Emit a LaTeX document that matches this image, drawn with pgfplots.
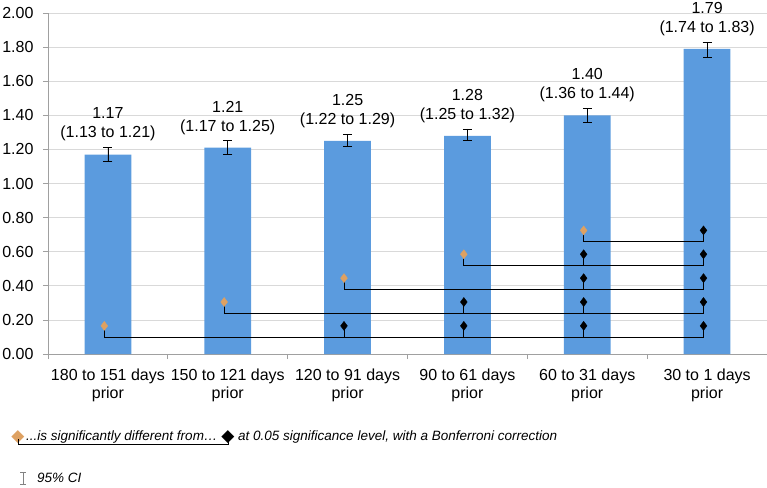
\documentclass[border=0pt]{standalone}
\usepackage{fontspec}
\setmainfont{Liberation Sans}
\newfontfamily\symfont{DejaVu Sans}
\usepackage{pgfplots}
\pgfplotsset{compat=1.18}
\usepackage{pgfplotstable}
\usetikzlibrary{calc}

\definecolor{barblue}{RGB}{91,155,222}
\definecolor{sigorange}{RGB}{222,161,98}
\definecolor{axgray}{RGB}{160,160,160}
\definecolor{gridgray}{RGB}{217,217,217}
\definecolor{cigray}{RGB}{130,130,130}

% rate ratio with 95% CI per period
\pgfplotstableread{
x y lo hi
0 1.17 1.13 1.21
1 1.21 1.17 1.25
2 1.25 1.22 1.29
3 1.28 1.25 1.32
4 1.40 1.36 1.44
5 1.79 1.74 1.83
}\ratios

% orange: reference period of each comparison row
\pgfplotstableread{
x y
-0.03 0.165
0.97 0.305
1.97 0.445
2.97 0.585
3.97 0.725
}\refpts

% black: periods significantly different from the reference
\pgfplotstableread{
x y
1.97 0.165
2.97 0.165
3.97 0.165
4.97 0.165
2.97 0.305
3.97 0.305
4.97 0.305
3.97 0.445
4.97 0.445
3.97 0.585
4.97 0.585
4.97 0.725
}\diffpts

\newcommand\pn[1]{\pgfmathprintnumber[fixed,fixed zerofill,precision=2]{#1}}

\begin{document}
\begin{tikzpicture}
\begin{axis}[
  scale only axis,
  width=719pt, height=341pt,
  xmin=-0.5, xmax=5.5,
  ymin=0, ymax=2,
  /pgf/number format/assume math mode=true,
  axis x line*=bottom, axis y line*=left,
  axis line style={axgray, line width=0.8pt},
  ytick={0,0.2,0.4,0.6,0.8,1.0,1.2,1.4,1.6,1.8,2.0},
  yticklabel style={/pgf/number format/fixed, /pgf/number format/fixed zerofill,
    /pgf/number format/precision=2, xshift=-6pt},
  ymajorgrids, grid style={gridgray, line width=0.8pt},
  tick align=outside, major tick length=5pt,
  tick style={axgray, line width=0.8pt},
  xtick={-0.5,0.5,1.5,2.5,3.5,4.5,5.5},
  xticklabels={},
  extra x ticks={0,1,2,3,4,5},
  extra x tick labels={180 to 151 days\\prior, 150 to 121 days\\prior,
    120 to 91 days\\prior, 90 to 61 days\\prior, 60 to 31 days\\prior,
    30 to 1 days\\prior},
  extra x tick style={major tick length=0pt, grid=none,
    tick label style={align=center, yshift=-11pt, font=\fontsize{16}{18.5}\selectfont}},
  tick label style={font=\fontsize{16}{19}\selectfont, text=black},
  clip=false,
]
\addplot[ybar, bar width=0.39, bar shift=0pt, fill=barblue, draw=none,
  error bars/.cd, y dir=both, y explicit,
  error bar style={black, line width=0.8pt},
  error mark options={black, line width=0.8pt, mark size=4.5pt, rotate=90}]
  table[x=x, y=y, y error plus expr=\thisrow{hi}-\thisrow{y},
        y error minus expr=\thisrow{y}-\thisrow{lo}] {\ratios};

\addplot[draw=none, mark=none,
  point meta=\thisrow{y},
  visualization depends on={\thisrow{lo}\as\lo},
  visualization depends on={\thisrow{hi}\as\hi},
  nodes near coords={\pn{\pgfplotspointmeta}\\(\pn{\lo} to \pn{\hi})},
  every node near coord/.append style={align=center, anchor=south,
    font=\fontsize{16}{19}\selectfont, yshift=3pt}]
  table[x=x, y=hi] {\ratios};

\addplot[black, line width=0.8pt, unbounded coords=jump] coordinates {
  (-0.03,0.165) (-0.03,0.10) (4.97,0.10) (4.97,0.165) (4.97,nan)
  (1.97,0.165) (1.97,0.10) (1.97,nan)
  (2.97,0.165) (2.97,0.10) (2.97,nan)
  (3.97,0.165) (3.97,0.10) (3.97,nan)
  (0.97,0.305) (0.97,0.24) (4.97,0.24) (4.97,0.305) (4.97,nan)
  (2.97,0.305) (2.97,0.24) (2.97,nan)
  (3.97,0.305) (3.97,0.24) (3.97,nan)
  (1.97,0.445) (1.97,0.38) (4.97,0.38) (4.97,0.445) (4.97,nan)
  (3.97,0.445) (3.97,0.38) (3.97,nan)
  (2.97,0.585) (2.97,0.52) (4.97,0.52) (4.97,0.585) (4.97,nan)
  (3.97,0.585) (3.97,0.52) (3.97,nan)
  (3.97,0.725) (3.97,0.66) (4.97,0.66) (4.97,0.725)
};

\addplot[only marks, mark=diamond*, mark size=4.5pt,
  mark options={fill=sigorange, draw=sigorange}] table[x=x, y=y] {\refpts};
\addplot[only marks, mark=diamond*, mark size=4.5pt,
  mark options={fill=black, draw=black}] table[x=x, y=y] {\diffpts};

\coordinate (O) at (rel axis cs:0,0);
\coordinate (T) at (rel axis cs:1,1);
\end{axis}

% key below the chart
\node[text=sigorange, font=\symfont\fontsize{17}{17}\selectfont, inner sep=0pt]
  at ($(O)+(-30pt,-83pt)$) {◆};
\node[font=\symfont\fontsize{17}{17}\selectfont, inner sep=0pt]
  at ($(O)+(180pt,-83pt)$) {◆};
\draw[black, line width=0.8pt] ($(O)+(-30pt,-85pt)$) -- ($(O)+(-30pt,-90pt)$)
  -- ($(O)+(180pt,-90pt)$) -- ($(O)+(180pt,-85pt)$);
\node[anchor=west, inner sep=0pt, font=\fontsize{13.5}{16}\selectfont\itshape]
  at ($(O)+(-22pt,-83pt)$) {...is significantly different from…};
\node[anchor=west, inner sep=0pt, font=\fontsize{13.5}{16}\selectfont\itshape]
  at ($(O)+(190pt,-83pt)$) {at 0.05 significance level, with a Bonferroni correction};
\draw[cigray, line width=0.8pt] ($(O)+(-28pt,-118pt)$) -- ($(O)+(-22pt,-118pt)$)
  ($(O)+(-25pt,-118pt)$) -- ($(O)+(-25pt,-130pt)$)
  ($(O)+(-28pt,-130pt)$) -- ($(O)+(-22pt,-130pt)$);
\node[anchor=west, inner sep=0pt, font=\fontsize{13.5}{16}\selectfont\itshape]
  at ($(O)+(-11pt,-124pt)$) {95\% CI};

\pgfresetboundingbox
\useasboundingbox ($(O)+(-48pt,-133pt)$) rectangle ($(T)+(0pt,13pt)$);
\end{tikzpicture}
\end{document}
